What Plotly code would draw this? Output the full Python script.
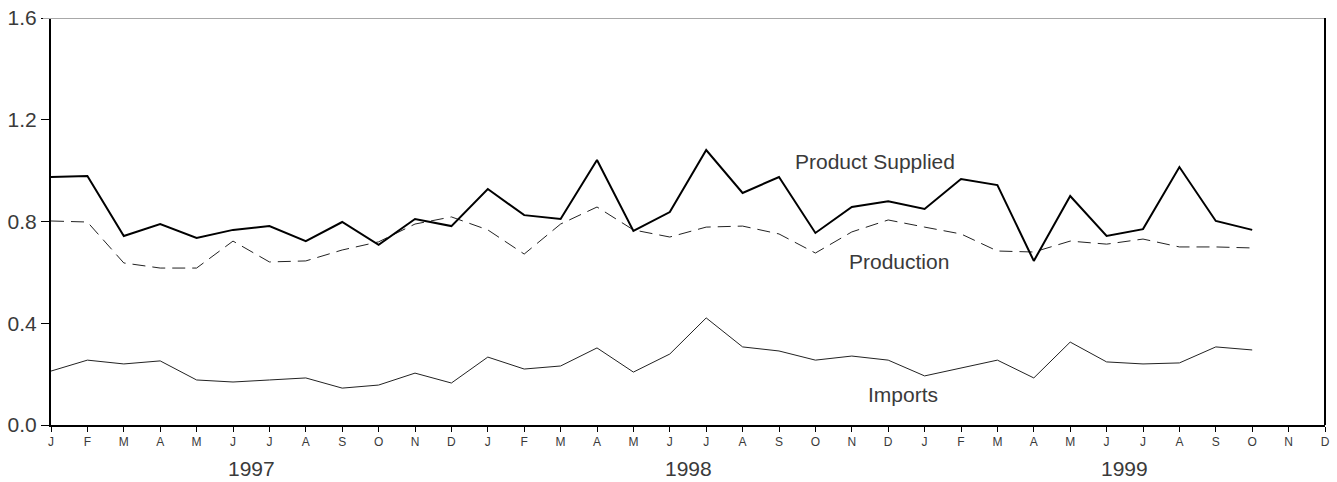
import plotly.graph_objects as go

months = ["J", "F", "M", "A", "M", "J", "J", "A", "S", "O", "N", "D"] * 3
years = ["1997", "1998", "1999"]

product_supplied = [0.975, 0.979, 0.743, 0.790, 0.735, 0.767, 0.782, 0.723, 0.798, 0.708, 0.810, 0.782,
                    0.928, 0.825, 0.810, 1.042, 0.763, 0.837, 1.081, 0.912, 0.975, 0.755, 0.857, 0.880,
                    0.849, 0.967, 0.943, 0.645, 0.900, 0.743, 0.770, 1.014, 0.802, 0.767]
production = [0.802, 0.798, 0.637, 0.617, 0.617, 0.723, 0.641, 0.645, 0.688, 0.720, 0.790, 0.818,
              0.767, 0.672, 0.790, 0.857, 0.767, 0.739, 0.778, 0.782, 0.751, 0.676, 0.759, 0.806,
              0.778, 0.751, 0.684, 0.680, 0.723, 0.711, 0.731, 0.700, 0.700, 0.696]
imports = [0.212, 0.255, 0.240, 0.252, 0.177, 0.169, 0.177, 0.185, 0.145, 0.157, 0.204, 0.165,
           0.267, 0.220, 0.232, 0.303, 0.208, 0.279, 0.421, 0.307, 0.291, 0.255, 0.271, 0.255,
           0.193, 0.224, 0.255, 0.185, 0.326, 0.248, 0.240, 0.244, 0.307, 0.295]
y_ticks = [0.0, 0.4, 0.8, 1.2, 1.6]

x_idx = list(range(len(months)))
FONT = "Liberation Sans, Arial, sans-serif"
TXT = "#3a3a3a"

fig = go.Figure()
fig.add_trace(go.Scatter(x=x_idx[:len(production)], y=production, mode="lines",
                         line=dict(color="#222", width=1, dash="13px,7px"), hoverinfo="skip"))
fig.add_trace(go.Scatter(x=x_idx[:len(imports)], y=imports, mode="lines",
                         line=dict(color="#222", width=1), hoverinfo="skip"))
fig.add_trace(go.Scatter(x=x_idx[:len(product_supplied)], y=product_supplied, mode="lines",
                         line=dict(color="#000", width=2), hoverinfo="skip"))

labels = [("Product Supplied", 22.64, 1.034), ("Production", 23.31, 0.641), ("Imports", 23.4, 0.118)]
for txt, x, y in labels:
    fig.add_annotation(x=x, y=y, text=txt, showarrow=False, xref="x", yref="y",
                       font=dict(family=FONT, size=21, color=TXT))

for i, yr in enumerate(years):
    fig.add_annotation(x=5.5 + 12 * i, y=-(468 - 425) / 407, xref="x", yref="paper", text=yr,
                       showarrow=False, yanchor="middle",
                       font=dict(family=FONT, size=21, color=TXT))

# top border (gray) and right border (black)
fig.add_shape(type="line", xref="paper", yref="y", x0=-8 / 1274, x1=1, y0=1.6, y1=1.6,
              line=dict(color="#a8a8a8", width=2), layer="above")
fig.add_shape(type="line", xref="paper", yref="paper", x0=1, x1=1, y0=0, y1=1,
              line=dict(color="#000", width=2), layer="above")

fig.update_layout(
    template="none",
    width=1337, height=482,
    margin=dict(l=51, r=12, t=18, b=57, autoexpand=False),
    plot_bgcolor="white", paper_bgcolor="white",
    showlegend=False,
    xaxis=dict(range=[0, 35], tickmode="array", tickvals=x_idx, ticktext=months, automargin=False,
               showgrid=False, zeroline=False, showline=True, linecolor="#000", linewidth=2,
               ticks="outside", ticklen=5, tickcolor="#000", tickwidth=1,
               ticklabeloverflow="allow",
               tickfont=dict(family=FONT, size=12, color=TXT)),
    yaxis=dict(range=[0, 1.6], tickmode="array", tickvals=y_ticks, automargin=False,
               ticktext=[f"{v:.1f}" for v in y_ticks],
               showgrid=False, zeroline=False, showline=True, linecolor="#000", linewidth=2,
               ticks="outside", ticklen=8, tickcolor="#000", tickwidth=1,
               ticklabeloverflow="allow",
               tickfont=dict(family=FONT, size=21, color=TXT)),
)

# remove the browser's default 8px body margin so the figure sits at the page origin
fig.write_html("out.html", config={"displayModeBar": False},
               post_script="document.body.style.margin='0';document.body.style.overflow='hidden';")
